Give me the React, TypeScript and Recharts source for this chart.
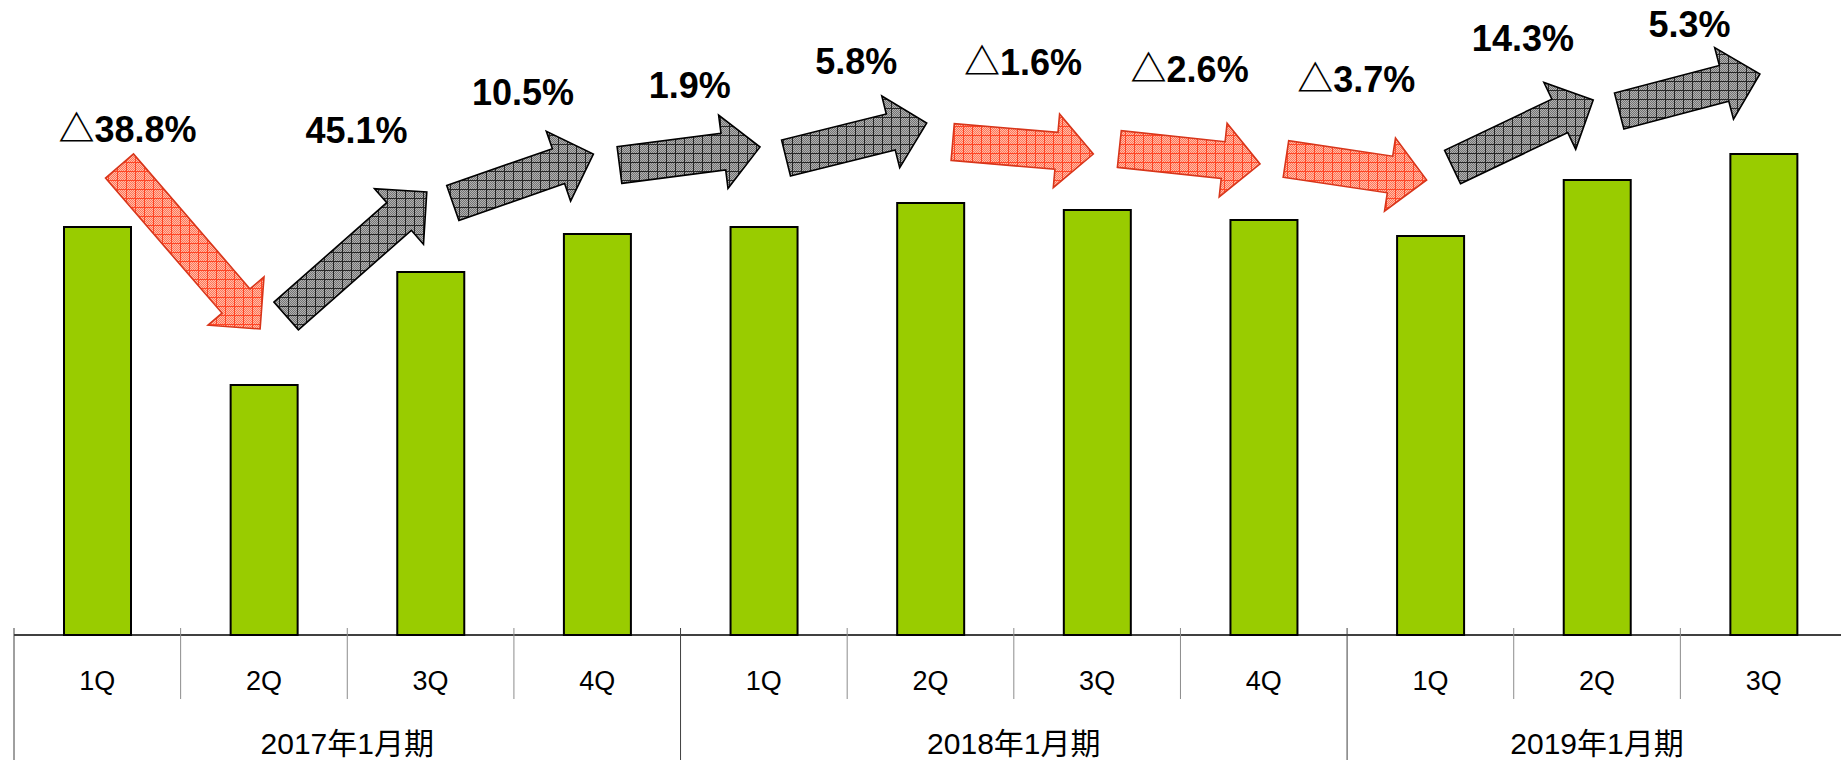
import React from "react";
import { BarChart, Bar, XAxis, YAxis, LabelList } from "recharts";

// ---- data ----
const quarters = ["1Q", "2Q", "3Q", "4Q", "1Q", "2Q", "3Q", "4Q", "1Q", "2Q", "3Q"];
const fiscalYears = [
  "2017年1月期", "2017年1月期", "2017年1月期", "2017年1月期",
  "2018年1月期", "2018年1月期", "2018年1月期", "2018年1月期",
  "2019年1月期", "2019年1月期", "2019年1月期",
];
const values = [408, 250, 363, 401, 408, 432, 425, 415, 399, 455, 481];
const changeLabels = ["", "△38.8%", "45.1%", "10.5%", "1.9%", "5.8%", "△1.6%", "△2.6%", "△3.7%", "14.3%", "5.3%"];

const data = quarters.map((q, i) => ({
  quarter: q,
  year: fiscalYears[i],
  value: values[i],
  change: changeLabels[i],
}));

// ---- layout ----
const CHART_W = 1848;
const CHART_H = 760;
const MARGIN = { top: 35, right: 1, left: 14, bottom: 0 };
const N = quarters.length;
const PLOT_W = CHART_W - MARGIN.left - MARGIN.right;
const BAND = PLOT_W / N;
const AXIS_Y = 635;

const FONT = "'Liberation Sans', 'Noto Sans CJK JP', sans-serif";

const arrowPoints = (tx: number, ty: number, px: number, py: number) => {
  const shaft = 37, head = 74, headLen = 37;
  const dx = px - tx, dy = py - ty;
  const len = Math.hypot(dx, dy) || 1;
  const ux = dx / len, uy = dy / len;
  const nx = -uy, ny = ux;
  const bx = px - ux * headLen, by = py - uy * headLen;
  const pts = [
    [tx + nx * shaft / 2, ty + ny * shaft / 2],
    [bx + nx * shaft / 2, by + ny * shaft / 2],
    [bx + nx * head / 2, by + ny * head / 2],
    [px, py],
    [bx - nx * head / 2, by - ny * head / 2],
    [bx - nx * shaft / 2, by - ny * shaft / 2],
    [tx - nx * shaft / 2, ty - ny * shaft / 2],
  ];
  return pts.map((p) => `${p[0].toFixed(1)},${p[1].toFixed(1)}`).join(" ");
};

const renderChange = (props: any) => {
  const vb = props.viewBox && props.viewBox.width !== undefined ? props.viewBox : props;
  const x = Number(vb.x), y = Number(vb.y), w = Number(vb.width), h = Number(vb.height);
  const cx = x + w / 2;
  const idx = props.index !== undefined ? props.index : Math.round((cx - MARGIN.left) / BAND - 0.5);
  if (!idx) return null;
  const label = changeLabels[idx];
  const bottom = y + h;
  const k = h / values[idx];
  const prevTop = bottom - values[idx - 1] * k;
  const prevCx = cx - BAND;
  const negative = label.startsWith("△");
  const steepDrop = values[idx] / values[idx - 1] < 0.8;
  const tx = prevCx + 22;
  const ty = prevTop - (negative ? 61 : 69);
  const px = cx - 4;
  const py = y - (negative ? 56 : 80);
  let lx: number, ly: number;
  if (steepDrop) {
    lx = tx + 8;
    ly = ty - 37;
  } else if (negative) {
    lx = (tx + px) / 2;
    ly = Math.min(ty, py) - 80;
  } else {
    lx = (tx + px) / 2;
    ly = Math.max(Math.min(ty, py) - 62, 24);
  }
  return (
    <g key={`chg-${idx}`}>
      <polygon
        points={arrowPoints(tx, ty, px, py)}
        fill={negative ? "url(#redGrid)" : "url(#greyGrid)"}
        stroke={negative ? "#d8351a" : "#000"}
        strokeWidth={1.6}
        strokeLinejoin="miter"
      />
      <text
        x={lx}
        y={ly + 13}
        textAnchor="middle"
        fontSize={36}
        fontWeight="bold"
        fontFamily={FONT}
        fill="#000"
      >
        {label}
      </text>
    </g>
  );
};

const QuarterTick = (props: any) => {
  const { x, payload } = props;
  const i = props.index !== undefined ? props.index : payload.index;
  const left = x - BAND / 2;
  const isYearStart = i === 0 || fiscalYears[i] !== fiscalYears[i - 1];
  return (
    <g>
      <line
        x1={left}
        x2={left}
        y1={AXIS_Y - 7}
        y2={isYearStart ? CHART_H : AXIS_Y + 64}
        stroke={isYearStart ? "#404040" : "#8c8c8c"}
        strokeWidth={1}
      />
      {i === N - 1 && (
        <line x1={x + BAND / 2} x2={x + BAND / 2} y1={AXIS_Y - 7} y2={CHART_H} stroke="#404040" strokeWidth={1} />
      )}
      <text x={x} y={AXIS_Y + 55} textAnchor="middle" fontSize={27} fill="#000" fontFamily={FONT}>
        {payload.value}
      </text>
    </g>
  );
};

const YearTick = (props: any) => {
  const { x, payload } = props;
  const i = props.index !== undefined ? props.index : payload.index;
  if (i > 0 && fiscalYears[i] === fiscalYears[i - 1]) return <g />;
  let size = 0;
  for (let j = i; j < N && fiscalYears[j] === fiscalYears[i]; j++) size++;
  const cx = x + ((size - 1) * BAND) / 2;
  return (
    <text x={cx} y={AXIS_Y + 119} textAnchor="middle" fontSize={30} fill="#000" fontFamily={FONT}>
      {fiscalYears[i]}
    </text>
  );
};

export default function App() {
  return (
    <div style={{ position: "absolute", left: 0, top: 0, width: 1841, height: 760, overflow: "hidden", background: "#fff" }}>
      <svg width={0} height={0} style={{ position: "absolute" }}>
        <defs>
          <pattern id="redFine" width="2" height="2" patternUnits="userSpaceOnUse">
            <rect width="2" height="2" fill="#ffbcaa" />
            <rect width="1" height="1" fill="#ff7456" />
            <rect x="1" y="1" width="1" height="1" fill="#ff7456" />
          </pattern>
          <pattern id="redGrid" width="9" height="9" patternUnits="userSpaceOnUse">
            <rect width="9" height="9" fill="url(#redFine)" />
            <path d="M0 0.5H9M0.5 0V9" stroke="#ff4526" strokeWidth="1" />
          </pattern>
          <pattern id="greyFine" width="2" height="2" patternUnits="userSpaceOnUse">
            <rect width="2" height="2" fill="#b2b2b2" />
            <rect width="1" height="1" fill="#747474" />
            <rect x="1" y="1" width="1" height="1" fill="#747474" />
          </pattern>
          <pattern id="greyGrid" width="9" height="9" patternUnits="userSpaceOnUse">
            <rect width="9" height="9" fill="url(#greyFine)" />
            <path d="M0 0.5H9M0.5 0V9" stroke="#262626" strokeWidth="1" />
          </pattern>
        </defs>
      </svg>
      <BarChart width={CHART_W} height={CHART_H} data={data} margin={MARGIN}>
        <YAxis hide domain={[0, 600]} />
        <XAxis
          dataKey="quarter"
          height={64}
          interval={0}
          tickLine={false}
          axisLine={{ stroke: "#000", strokeWidth: 1.5 }}
          tick={<QuarterTick />}
        />
        <XAxis
          xAxisId="year"
          dataKey="year"
          height={61}
          interval={0}
          tickLine={false}
          axisLine={false}
          tick={<YearTick />}
        />
        <Bar dataKey="value" fill="#99cc00" stroke="#000" strokeWidth={2} barSize={67} isAnimationActive={false}>
          <LabelList dataKey="change" content={renderChange} />
        </Bar>
      </BarChart>
    </div>
  );
}
